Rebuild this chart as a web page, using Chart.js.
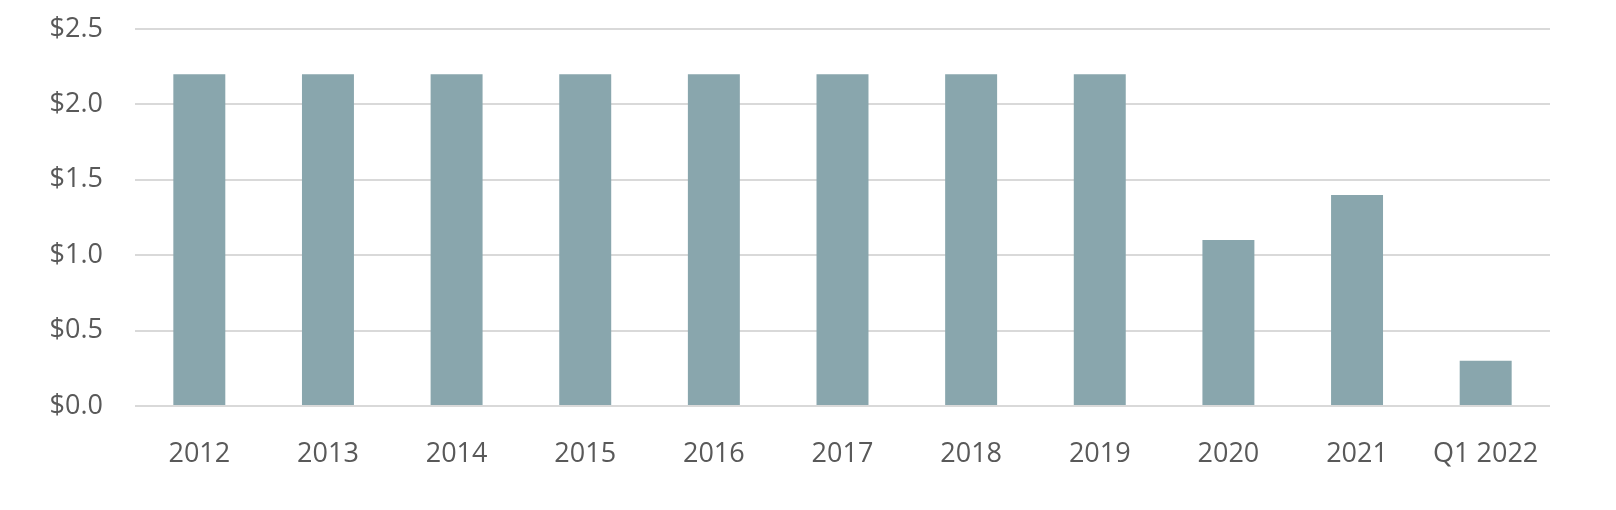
<!DOCTYPE html>
<html>
<head>
<meta charset="utf-8">
<script src="https://cdn.jsdelivr.net/npm/chart.js@4"></script>
<style>
  html, body { margin: 0; padding: 0; background: #ffffff; }
  #barChart { display: block; }
</style>
</head>
<body>
<canvas id="barChart" width="1616" height="510"></canvas>
<script>
const categories = ['2012', '2013', '2014', '2015', '2016', '2017', '2018', '2019', '2020', '2021', 'Q1 2022'];
const values = [2.2, 2.2, 2.2, 2.2, 2.2, 2.2, 2.2, 2.2, 1.1, 1.4, 0.3];
const yTicks = [0, 0.5, 1.0, 1.5, 2.0, 2.5];

const barColor = '#89a6ad';
const gridColor = '#d9d9d9';
const labelColor = '#595959';
const fontFamily = '"Open Sans", "Noto Sans", sans-serif';

function initChart() {
    const ctx = document.getElementById('barChart');
    return new Chart(ctx, {
      type: 'bar',
      data: {
        labels: categories,
        datasets: [{
          data: values,
          backgroundColor: barColor,
          borderWidth: 0,
          barPercentage: 0.404,
          categoryPercentage: 1.0
        }]
      },
      options: {
        responsive: false,
        animation: false,
        layout: {
          padding: { left: 0, right: 66, top: 29, bottom: 0 }
        },
        scales: {
            x: {
                grid: { display: false },
                border: { display: false },
                ticks: {
                    color: labelColor,
                    padding: 24,
                    maxRotation: 0,
                    autoSkip: false,
                    font: { family: fontFamily, size: 27 }
                },
                afterFit: function(scale) { scale.height = 104; }
            },
            y: {
                min: 0,
                max: 2.5,
                afterBuildTicks: function(scale) {
                    scale.ticks = yTicks.map(v => ({ value: v }));
                },
                grid: {
                    color: gridColor,
                    lineWidth: 2,
                    drawTicks: false
                },
                border: { display: false },
                ticks: {
                    color: labelColor,
                    padding: 32,
                    font: { family: fontFamily, size: 27 },
                    callback: function(value) { return '$' + value.toFixed(1); }
                },
                afterFit: function(scale) {
                    // tick padding would otherwise push the plot down from the top
                    scale.width = 135;
                    scale.paddingTop = 0;
                    scale.paddingBottom = 0;
                }
            }
        },
        plugins: {
          legend: { display: false },
          tooltip: { enabled: false }
        }
      }
    });
}

var g_chart = initChart();
</script>
</body>
</html>
